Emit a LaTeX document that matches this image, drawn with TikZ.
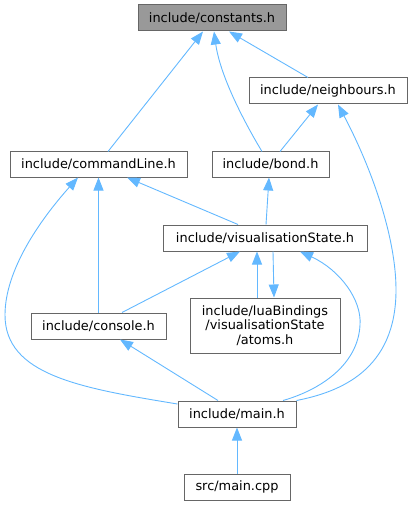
\documentclass[tikz,border=0pt]{standalone}
\usepackage{fontspec}
\setmainfont{DejaVu Sans}
\usetikzlibrary{arrows.meta}
\definecolor{edgeblue}{HTML}{63B8FF}
\definecolor{boxgrey}{HTML}{666666}
\definecolor{rootfill}{HTML}{999999}
\begin{document}
\begin{tikzpicture}[x=1pt,y=-1pt,
  box/.style={draw=boxgrey,line width=1pt,fill=white,inner sep=0pt,align=center,
    font=\fontsize{12.9}{14.5}\selectfont},
  root/.style={box,fill=rootfill},
  dep/.style={draw=edgeblue,line width=0.9pt,{Triangle[length=13pt,width=10pt]}-}]
\useasboundingbox (0,0) rectangle (412,505);
\node[root,minimum width=148pt,minimum height=26pt] (constants) at (212,18) {include/constants.h};
\node[box,minimum width=158pt,minimum height=26pt] (neighbours) at (328,91) {include/neighbours.h};
\node[box,minimum width=177pt,minimum height=25pt] (commandLine) at (98.5,164.5) {include/commandLine.h};
\node[box,minimum width=117pt,minimum height=25pt] (bond) at (270.5,164.5) {include/bond.h};
\node[box,minimum width=204pt,minimum height=26pt] (visState) at (265,238) {include/visualisationState.h};
\node[box,minimum width=135pt,minimum height=26pt] (console) at (98.5,326) {include/console.h};
\node[box,minimum width=150pt,minimum height=55pt] (atoms) at (265,325.5) {include/luaBindings\\/visualisationState\\/atoms.h};
\node[box,minimum width=118pt,minimum height=26pt] (mainh) at (237,414) {include/main.h};
\node[box,minimum width=106pt,minimum height=26pt] (maincpp) at (237,487) {src/main.cpp};

\draw[dep] ([xshift=-9pt]constants.south) -- ([xshift=9.5pt]commandLine.north);
\draw[dep] ([xshift=2pt]constants.south) .. controls (220,75) and (243,120) .. ([xshift=-8.5pt]bond.north);
\draw[dep] ([xshift=17pt]constants.south) -- ([xshift=-20pt]neighbours.north);
\draw[dep] ([xshift=-10pt]neighbours.south) -- ([xshift=9.5pt]bond.north);
\draw[dep] ([xshift=10pt]neighbours.south) .. controls (370,165) and (396,235) .. (396,290)
   .. controls (396,370) and (340,392) .. (mainh.north east);
\draw[dep] ([xshift=28.5pt]commandLine.south) -- ([xshift=-27pt]visState.north);
\draw[dep] (commandLine.south) -- (console.north);
\draw[dep] ([xshift=-20.5pt]commandLine.south) .. controls (40,220) and (5,270) .. (5,315)
   .. controls (5,375) and (80,388) .. ([yshift=10pt]mainh.west);
\draw[dep] ([xshift=-1.5pt]bond.south) -- ([xshift=1pt]visState.north);
\draw[dep] ([xshift=-25pt]visState.south) -- ([xshift=23.5pt]console.north);
\draw[dep] ([xshift=-8pt]visState.south) -- ([xshift=-8pt]atoms.north);
\draw[dep] ([xshift=9pt]atoms.north) -- ([xshift=8pt]visState.south);
\draw[dep] ([xshift=35pt]visState.south) .. controls (340,270) and (362,300) .. (360,325)
   .. controls (358,365) and (320,390) .. ([xshift=46pt]mainh.north);
\draw[dep] ([xshift=21.5pt]console.south) -- ([xshift=-19pt]mainh.north);
\draw[dep] (mainh.south) -- (maincpp.north);
\end{tikzpicture}
\end{document}
